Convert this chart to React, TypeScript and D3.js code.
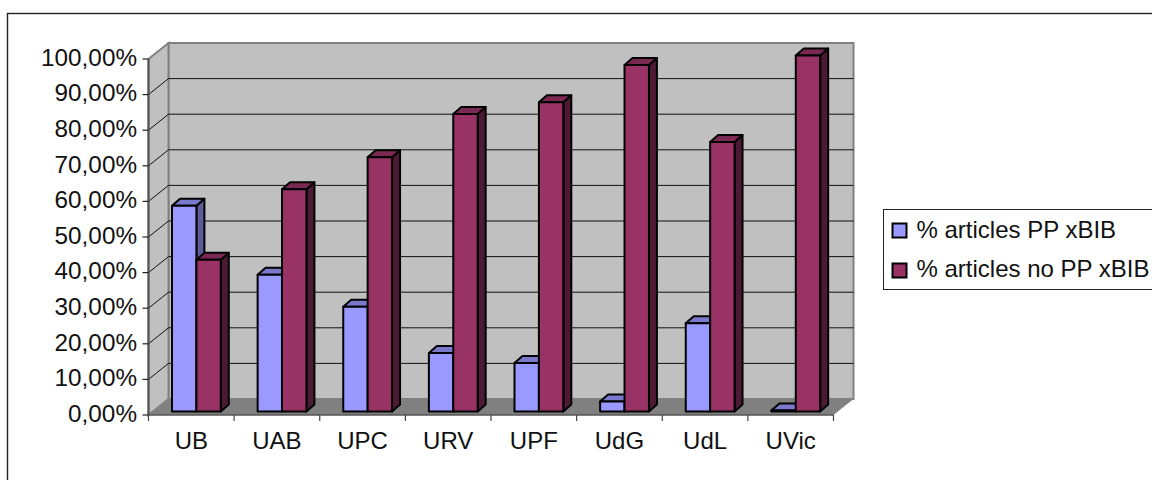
import React from "react";
import * as d3 from "d3";

const categories = ["UB", "UAB", "UPC", "URV", "UPF", "UdG", "UdL", "UVic"];
const seriesPP = [57.8, 38.4, 29.4, 16.4, 13.6, 2.8, 24.8, 0.3];
const seriesNoPP = [42.6, 62.4, 71.4, 83.6, 86.9, 97.3, 75.7, 100];
const tickValues = [0, 10, 20, 30, 40, 50, 60, 70, 80, 90, 100];
const tickLabels = ["0,00%", "10,00%", "20,00%", "30,00%", "40,00%", "50,00%", "60,00%", "70,00%", "80,00%", "90,00%", "100,00%"];
const legendLabels = ["% articles PP xBIB", "% articles no PP xBIB"];

const FONT = "'Liberation Sans', Arial, sans-serif";
const front = { l: 148.5, r: 833.5, b: 415, t: 59 };
const wallDx = 20;
const wallDy = -16;
const barDx = 8;
const barDy = -7;
const barBase = 411.5;

const x = d3.scaleBand<string>().domain(categories).range([front.l, front.r]);
const yAxis = d3.scaleLinear().domain([0, 100]).range([front.b, front.t]);
const yBar = d3.scaleLinear().domain([0, 100]).range([barBase, barBase - (front.b - front.t)]);
const poly = (p: number[][]) => p.map((q) => q.join(",")).join(" ");

const styles = [
  { front: "#9999ff", top: "#7a7acc", side: "#5c5c99" },
  { front: "#993366", top: "#7a2952", side: "#4d1a33" },
];

function Bar({ x0, w, value, s }: { x0: number; w: number; value: number; s: typeof styles[0] }) {
  const yt = yBar(value);
  const st = { stroke: "#000", strokeWidth: 2, strokeLinejoin: "round" as const };
  return (
    <g>
      <polygon points={poly([[x0 + w, barBase], [x0 + w + barDx, barBase + barDy], [x0 + w + barDx, yt + barDy], [x0 + w, yt]])} fill={s.side} {...st} />
      <polygon points={poly([[x0, yt], [x0 + barDx, yt + barDy], [x0 + w + barDx, yt + barDy], [x0 + w, yt]])} fill={s.top} {...st} />
      <rect x={x0} y={yt} width={w} height={barBase - yt} fill={s.front} {...st} />
    </g>
  );
}

export default function App() {
  const barW = 24.4;
  const barOff = 23.5;
  return (
    <svg width={1152} height={480} style={{ position: "absolute", left: 0, top: 0, background: "#fff" }} fontFamily={FONT}>
      <rect x={7.5} y={13.5} width={1160} height={480} fill="#fff" stroke="#222" strokeWidth={1.4} />
      <polygon points={poly([[front.l + wallDx, front.t + wallDy], [front.r + wallDx, front.t + wallDy], [front.r + wallDx, front.b + wallDy], [front.l + wallDx, front.b + wallDy]])} fill="#c0c0c0" stroke="#808080" strokeWidth={2} />
      <polygon points={poly([[front.l, front.t], [front.l + wallDx, front.t + wallDy], [front.l + wallDx, front.b + wallDy], [front.l, front.b]])} fill="#c0c0c0" stroke="#808080" strokeWidth={2} />
      <polygon points={poly([[front.l, front.b], [front.l + wallDx, front.b + wallDy], [front.r + wallDx, front.b + wallDy], [front.r, front.b]])} fill="#808080" />
      {tickValues.slice(1, -1).map((t) => (
        <g key={t} stroke="#111" strokeWidth={1}>
          <line x1={front.l} y1={yAxis(t)} x2={front.l + wallDx} y2={yAxis(t) + wallDy} />
          <line x1={front.l + wallDx} y1={yAxis(t) + wallDy} x2={front.r + wallDx} y2={yAxis(t) + wallDy} />
        </g>
      ))}
      <line x1={front.l} y1={front.t} x2={front.l} y2={front.b} stroke="#555" strokeWidth={2} />
      <line x1={front.l} y1={front.b} x2={front.r} y2={front.b} stroke="#555" strokeWidth={1.4} />
      {tickValues.map((t, i) => (
        <g key={t}>
          <line x1={front.l - 6} y1={yAxis(t)} x2={front.l} y2={yAxis(t)} stroke="#222" strokeWidth={1.2} />
          <text x={137} y={yAxis(t) - 2} dy="0.36em" textAnchor="end" fontSize={24.3} fill="#111">{tickLabels[i]}</text>
        </g>
      ))}
      {[...categories.map((c) => x(c) as number), front.r].map((p, i) => (
        <line key={i} x1={p} y1={front.b} x2={p} y2={front.b + 6} stroke="#444" strokeWidth={1.2} />
      ))}
      {categories.map((c, i) => {
        const x0 = (x(c) as number) + barOff;
        return (
          <g key={c}>
            <Bar x0={x0} w={barW} value={seriesPP[i]} s={styles[0]} />
            <Bar x0={x0 + barW} w={barW} value={seriesNoPP[i]} s={styles[1]} />
            <text x={(x(c) as number) + x.bandwidth() / 2} y={449} textAnchor="middle" fontSize={24} fill="#111">{c}</text>
          </g>
        );
      })}
      <rect x={883.5} y={209.5} width={290} height={80} fill="#fff" stroke="#222" strokeWidth={1} />
      {legendLabels.map((l, i) => (
        <g key={l}>
          <rect x={892.5} y={223.5 + i * 40} width={14} height={14} fill={styles[i].front} stroke="#000" strokeWidth={2} />
          <text x={916.5} y={237.5 + i * 39.5} fontSize={24} fill="#111">{l}</text>
        </g>
      ))}
    </svg>
  );
}
